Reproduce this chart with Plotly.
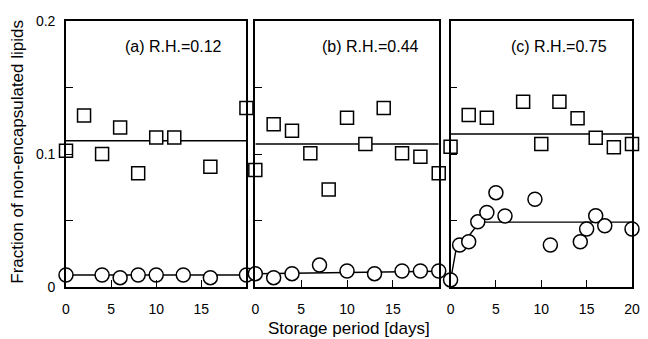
import plotly.graph_objects as go

# ---- data ----
days_a_sq = [0, 2, 4, 6, 8, 10, 12, 16, 20]
frac_a_sq = [0.1025, 0.129, 0.100, 0.120, 0.0855, 0.1125, 0.1125, 0.0905, 0.1345]
days_a_ci = [0, 4, 6, 8, 10, 13, 16, 20]
frac_a_ci = [0.009, 0.009, 0.007, 0.009, 0.009, 0.009, 0.007, 0.009]
fit_a_days = [0, 20]
fit_a_sq = [0.110, 0.110]
fit_a_ci = [0.009, 0.009]

days_b_sq = [0, 2, 4, 6, 8, 10, 12, 14, 16, 18, 20]
frac_b_sq = [0.088, 0.1223, 0.1175, 0.1005, 0.0734, 0.1273, 0.1075, 0.1346, 0.1005, 0.098, 0.0855]
days_b_ci = [0, 2, 4, 7, 10, 13, 16, 18, 20]
frac_b_ci = [0.010, 0.007, 0.010, 0.0165, 0.012, 0.010, 0.012, 0.012, 0.012]
fit_b_days = [0, 20]
fit_b_sq = [0.1075, 0.1075]
fit_b_ci = [0.0100, 0.0118]

days_c_sq = [0, 2, 4, 8, 10, 12, 14, 16, 18, 20]
frac_c_sq = [0.1055, 0.1293, 0.1273, 0.1393, 0.1075, 0.1393, 0.1268, 0.1123, 0.105, 0.1075]
days_c_ci = [0, 1, 2, 3, 4, 5, 6, 9.3, 11, 14.3, 15, 16, 17, 20]
frac_c_ci = [0.0053, 0.0316, 0.034, 0.049, 0.056, 0.0709, 0.0534, 0.066, 0.0316, 0.034, 0.0436, 0.0536, 0.046, 0.0436]
fit_c_sq_days = [0, 20]
fit_c_sq = [0.115, 0.115]
fit_c_ci_days = [0, 0.6, 1.5, 2.8, 3.7, 20]
fit_c_ci = [0.005, 0.028, 0.034, 0.0453, 0.0488, 0.0488]

panel_labels = ["(a) R.H.=0.12", "(b) R.H.=0.44", "(c) R.H.=0.75"]
x_ticks = [0, 5, 10, 15, 20]
x_ticktext_ab = ["0", "5", "10", "15", ""]
x_ticktext_c = ["0", "5", "10", "15", "20"]
y_ticks = [0, 0.05, 0.1, 0.15, 0.2]
y_ticktext = ["0", "", "0.1", "", "0.2"]

FONT = "Liberation Sans, Arial, Helvetica, sans-serif"

fig = go.Figure()

panels = [
    ("x", "y", days_a_sq, frac_a_sq, days_a_ci, frac_a_ci, fit_a_days, fit_a_sq, fit_a_days, fit_a_ci),
    ("x2", "y2", days_b_sq, frac_b_sq, days_b_ci, frac_b_ci, fit_b_days, fit_b_sq, fit_b_days, fit_b_ci),
    ("x3", "y3", days_c_sq, frac_c_sq, days_c_ci, frac_c_ci, fit_c_sq_days, fit_c_sq, fit_c_ci_days, fit_c_ci),
]

for xa, ya, dsq, fsq, dci, fci, fsd, fsv, fcd, fcv in panels:
    fig.add_trace(go.Scatter(x=fsd, y=fsv, mode="lines", xaxis=xa, yaxis=ya,
                             line=dict(color="black", width=1.4), cliponaxis=False, showlegend=False))
    fig.add_trace(go.Scatter(x=fcd, y=fcv, mode="lines", xaxis=xa, yaxis=ya,
                             line=dict(color="black", width=1.4), cliponaxis=False, showlegend=False))
    fig.add_trace(go.Scatter(x=dsq, y=fsq, mode="markers", xaxis=xa, yaxis=ya, cliponaxis=False,
                             marker=dict(symbol="square", size=13, color="white",
                                         line=dict(color="black", width=1.5)), showlegend=False))
    fig.add_trace(go.Scatter(x=dci, y=fci, mode="markers", xaxis=xa, yaxis=ya, cliponaxis=False,
                             marker=dict(symbol="circle", size=14, color="white",
                                         line=dict(color="black", width=1.5)), showlegend=False))

W, H = 648, 339
L, R, T, B = 66, 8, 21, 52
pw = W - L - R
ph = H - T - B

def dom(x0, x1):
    return [(x0 - L) / pw, (x1 - L) / pw]

xdoms = [dom(66, 249), dom(258, 444), dom(456, 640)]

common_x = dict(range=[0, 20], showline=True, mirror=True, linecolor="black", linewidth=1.6,
                ticks="inside", ticklen=7, tickwidth=1.3, tickcolor="black", tickvals=x_ticks,
                showgrid=False, zeroline=False, ticklabelstandoff=8,
                tickfont=dict(family=FONT, size=14, color="black"))
common_y = dict(range=[0, 0.2], showline=True, mirror=True, linecolor="black", linewidth=1.6,
                ticks="inside", ticklen=7, tickwidth=1.3, tickcolor="black", tickvals=y_ticks,
                showgrid=False, zeroline=False, ticklabelstandoff=6,
                tickfont=dict(family=FONT, size=14, color="black"))

layout = dict(
    width=W, height=H, margin=dict(l=L, r=R, t=T, b=B),
    paper_bgcolor="white", plot_bgcolor="white",
    font=dict(family=FONT, color="black"),
)
for i, (xa, ya) in enumerate([("xaxis", "yaxis"), ("xaxis2", "yaxis2"), ("xaxis3", "yaxis3")]):
    suffix = "" if i == 0 else str(i + 1)
    layout[xa] = dict(common_x, domain=xdoms[i], anchor="y" + suffix,
                      ticktext=x_ticktext_c if i == 2 else x_ticktext_ab)
    layout[ya] = dict(common_y, domain=[0, 1], anchor="x" + suffix,
                      ticktext=y_ticktext if i == 0 else [""] * len(y_ticks))
fig.update_layout(**layout)

label_x = [11.9, 12.6, 12.0]
for i, txt in enumerate(panel_labels):
    suffix = "" if i == 0 else str(i + 1)
    fig.add_annotation(x=label_x[i], y=0.1805, xref="x" + suffix, yref="y" + suffix,
                       text=txt, showarrow=False, xanchor="center", yanchor="middle",
                       font=dict(family=FONT, size=16, color="black"))

fig.add_annotation(x=(353 - L) / pw, y=(287 - 328) / ph, xref="paper", yref="paper",
                   text="Storage period [days]", showarrow=False, xanchor="center", yanchor="middle",
                   font=dict(family=FONT, size=17, color="black"))
fig.add_annotation(x=(17 - L) / pw, y=(287 - 152) / ph, xref="paper", yref="paper",
                   text="Fraction of non-encapsulated lipids", textangle=-90, showarrow=False,
                   xanchor="center", yanchor="middle",
                   font=dict(family=FONT, size=17, color="black"))

fig.write_html("out.html", config={"displayModeBar": False},
               post_script="document.body.style.margin='0';document.body.style.padding='0';")
